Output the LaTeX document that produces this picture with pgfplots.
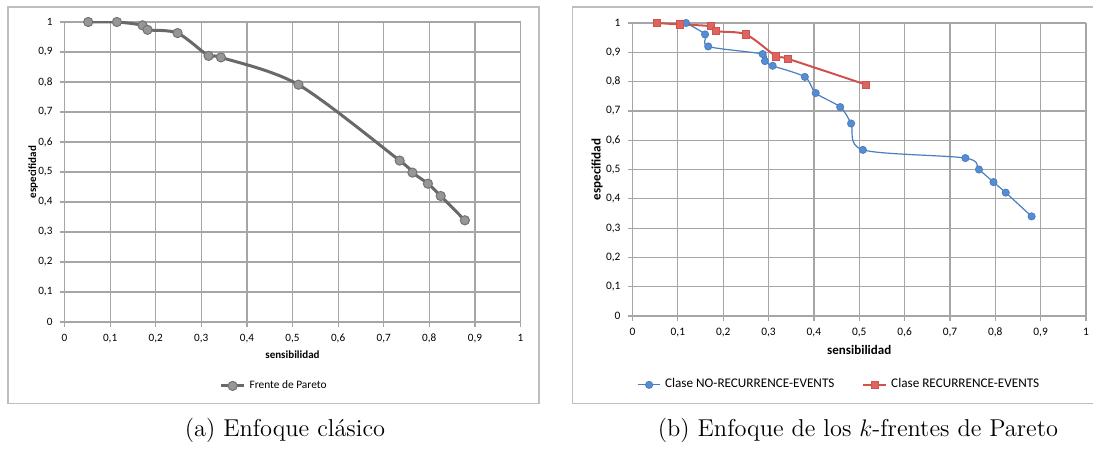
\documentclass[border=0pt]{standalone}
\usepackage{pgfplots}
\pgfplotsset{compat=1.18}
\usepackage{fontspec}
\newfontfamily\carlito{Carlito}

\definecolor{gridgray}{RGB}{166,166,166}
\definecolor{framegray}{RGB}{190,190,190}
\definecolor{frontgray}{RGB}{105,105,105}
\definecolor{markgray}{RGB}{150,150,150}
\definecolor{markedge}{RGB}{115,115,115}
\definecolor{xlblue}{RGB}{74,126,193}
\definecolor{xlbluem}{RGB}{88,140,210}
\definecolor{xlred}{RGB}{206,82,78}
\definecolor{xlredm}{RGB}{222,100,96}

\pgfplotsset{
  excel/.style={
    scale only axis,
    xmin=0, xmax=1, ymin=0, ymax=1,
    axis lines=left,
    axis line style={-, gridgray, line width=0.6pt},
    grid=major,
    grid style={gridgray, line width=0.6pt},
    xtick={0,0.1,0.2,0.3,0.4,0.5,0.6,0.7,0.8,0.9,1},
    ytick={0,0.1,0.2,0.3,0.4,0.5,0.6,0.7,0.8,0.9,1},
    tick align=outside,
    major tick length=2.5pt,
    tick style={gridgray, line width=0.6pt},
    /pgf/number format/use comma,
    /pgf/number format/fixed,
    /pgf/number format/precision=1,
    /pgf/number format/assume math mode=true,
    legend cell align=left,
    legend image code/.code={
      \draw[mark repeat=2,mark phase=2,##1]
        plot coordinates {(0cm,0cm) (0.2cm,0cm) (0.4cm,0cm)};
    },
  }
}

\begin{document}
\begin{tikzpicture}
\path[use as bounding box] (0,0) rectangle (546.5pt,225pt);
\draw[framegray, line width=0.8pt] (4pt,23.25pt) rectangle (269.5pt,221.5pt);
\draw[framegray, line width=0.8pt] (286.25pt,23.25pt) rectangle (560pt,221.5pt);

% (a) enfoque clasico
\begin{axis}[excel,
  at={(32.25pt,64pt)}, anchor=south west,
  width=228pt, height=150pt,
  tick label style={font=\carlito\fontsize{5.6}{6}\selectfont},
  xlabel={sensibilidad}, ylabel={especifidad},
  label style={font=\carlito\bfseries\fontsize{5.5}{6}\selectfont},
  xlabel style={at={(axis description cs:0.5,-0.11)}, anchor=center},
  ylabel style={at={(axis description cs:-0.069,0.5)}, anchor=center},
  legend style={at={(axis description cs:0.462,-0.213)}, anchor=center,
    draw=none, fill=none, font=\carlito\fontsize{5.7}{6.5}\selectfont},
]
\addplot[frontgray, line width=1.5pt, smooth, tension=0.5,
  mark=*, mark size=2.3pt,
  mark options={fill=markgray, draw=markedge, line width=0.5pt}]
  coordinates {
  (0.052,1.000) (0.115,1.000) (0.171,0.989) (0.182,0.974) (0.248,0.963)
  (0.316,0.887) (0.343,0.882) (0.513,0.791) (0.735,0.538) (0.763,0.498)
  (0.797,0.461) (0.825,0.420) (0.878,0.339)
};
\addlegendentry{Frente de Pareto}
\end{axis}

% (b) k-frentes
\begin{axis}[excel,
  at={(316.25pt,67pt)}, anchor=south west,
  width=226.75pt, height=146.5pt,
  tick label style={font=\carlito\fontsize{5.7}{6.5}\selectfont},
  xlabel={sensibilidad}, ylabel={especifidad},
  label style={font=\carlito\bfseries\fontsize{6.5}{7}\selectfont},
  xlabel style={at={(axis description cs:0.5,-0.116)}, anchor=center},
  ylabel style={at={(axis description cs:-0.078,0.5)}, anchor=center},
  legend columns=2,
  legend style={at={(axis description cs:0.458,-0.235)}, anchor=center,
    draw=none, fill=none, font=\carlito\fontsize{6.6}{7.5}\selectfont,
    /tikz/every even column/.append style={column sep=12pt}},
]
\addplot[xlblue, line width=0.6pt, smooth, tension=0.5,
  mark=*, mark size=1.8pt,
  mark options={fill=xlbluem, draw=xlblue, line width=0.4pt}]
  coordinates {
  (0.118,1.000) (0.160,0.961) (0.167,0.920) (0.287,0.894) (0.292,0.870)
  (0.309,0.854) (0.380,0.816) (0.404,0.761) (0.458,0.713) (0.482,0.657)
  (0.508,0.567) (0.734,0.539) (0.764,0.500) (0.796,0.457) (0.823,0.421)
  (0.880,0.340)
};
\addlegendentry{Clase NO-RECURRENCE-EVENTS}
\addplot[xlred, line width=1pt, smooth, tension=0.5,
  mark=square*, mark size=1.8pt,
  mark options={fill=xlredm, draw=xlred, line width=0.4pt}]
  coordinates {
  (0.054,1.000) (0.105,0.995) (0.172,0.989) (0.184,0.972) (0.250,0.961)
  (0.317,0.886) (0.342,0.878) (0.514,0.790)
};
\addlegendentry{Clase RECURRENCE-EVENTS}
\end{axis}

\node at (142.5pt,10pt) {\fontsize{12.2}{14}\selectfont (a) Enfoque clásico};
\node at (429pt,10pt) {\fontsize{12.2}{14}\selectfont (b) Enfoque de los $k$-frentes de Pareto};
\end{tikzpicture}
\end{document}
